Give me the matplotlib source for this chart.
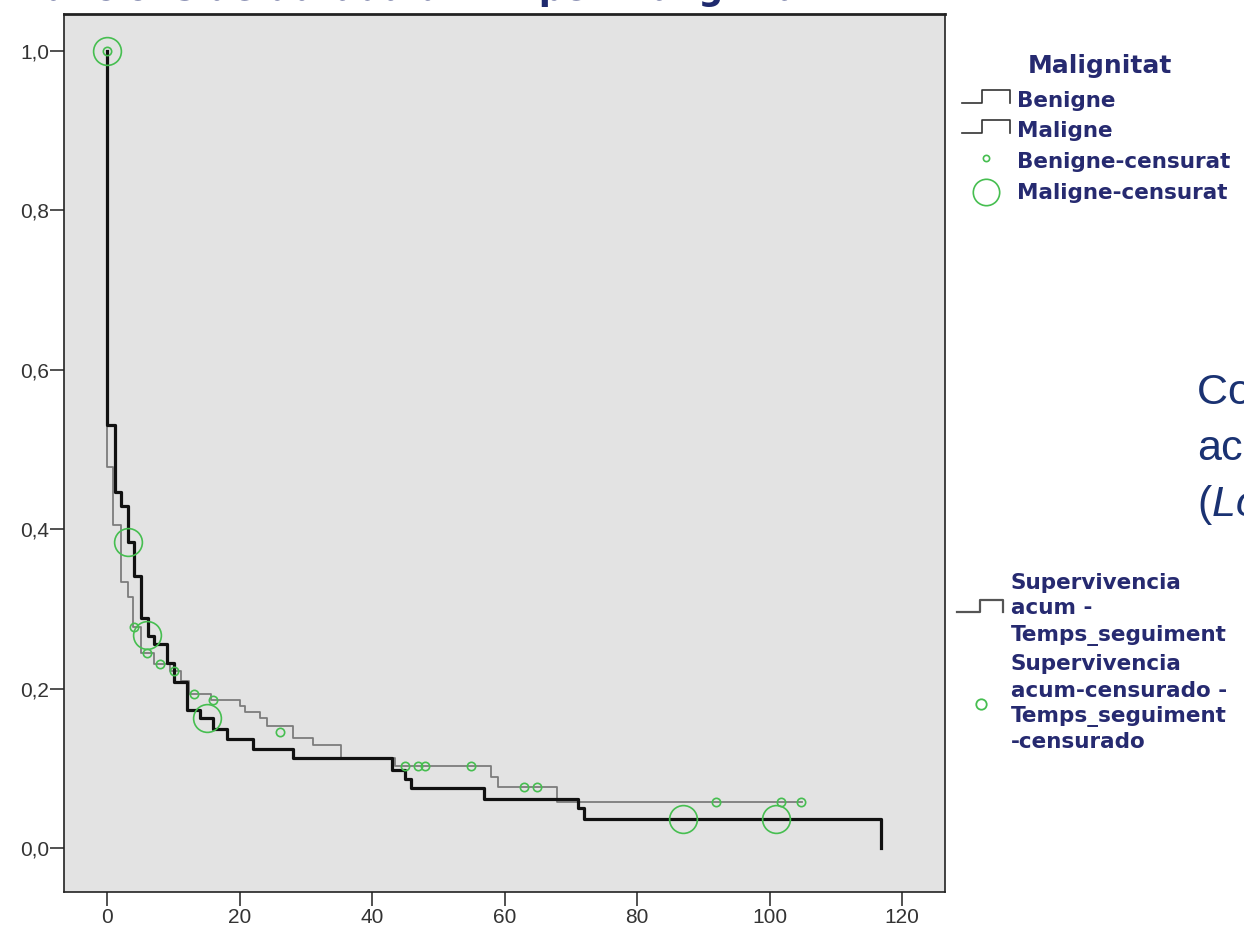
#Kaplan-Meier survival by malignancy
import matplotlib
matplotlib.use("Agg")
import matplotlib.pyplot as plt
from matplotlib.lines import Line2D

# Maligne (thick black) step curve: time, survival after each drop
mal_t = [0, 0, 1.1, 2.1, 3.1, 4.0, 5.0, 6.1, 7.0, 9.0, 10.1, 12.0, 14.0, 16.0, 18.0, 22.0, 28.0, 42.9, 44.9, 45.8, 56.9, 71.1, 71.9, 116.9, 116.9]
mal_s = [1.0, 0.531, 0.447, 0.429, 0.384, 0.342, 0.289, 0.266, 0.256, 0.232, 0.209, 0.173, 0.163, 0.150, 0.137, 0.125, 0.113, 0.098, 0.087, 0.075, 0.0615, 0.050, 0.037, 0.037, 0.0]

# Benigne (thin gray) step curve
ben_t = [0, 0, 0.9, 2.0, 3.1, 3.8, 5.0, 7.0, 9.5, 11.1, 12.3, 15.6, 20.0, 20.8, 23.1, 24.1, 28.0, 31.0, 35.2, 43.4, 57.9, 59.0, 67.9, 104.9]
ben_s = [1.0, 0.478, 0.405, 0.334, 0.315, 0.278, 0.245, 0.231, 0.222, 0.210, 0.194, 0.186, 0.178, 0.171, 0.163, 0.153, 0.138, 0.129, 0.113, 0.103, 0.090, 0.077, 0.058, 0.058]

# censored observations
ben_cens_t = [0, 4.0, 6.0, 8.0, 10.1, 13.0, 16.0, 26.0, 44.9, 46.9, 48.0, 54.9, 62.9, 64.9, 91.9, 101.8, 104.8]
ben_cens_s = [1.0, 0.278, 0.245, 0.231, 0.222, 0.194, 0.186, 0.146, 0.103, 0.103, 0.103, 0.103, 0.077, 0.077, 0.058, 0.058, 0.058]
mal_cens_t = [0, 3.1, 6.0, 15.1, 87.0, 100.9]
mal_cens_s = [1.0, 0.384, 0.267, 0.164, 0.037, 0.037]

xticks = [0, 20, 40, 60, 80, 100, 120]
yticks = [0.0, 0.2, 0.4, 0.6, 0.8, 1.0]
ytick_labels = ["0,0", "0,2", "0,4", "0,6", "0,8", "1,0"]

W, H = 1244, 930
green = "#46be50"
navy = "#262a70"

fig = plt.figure(figsize=(W / 100, H / 100), dpi=100)
ax = fig.add_axes([64 / W, 1 - 891.5 / H, (945 - 64) / W, (891.5 - 14) / H])
ax.set_facecolor("#e3e3e3")

ax.step(ben_t, ben_s, where="post", color="#7c7c7c", linewidth=1.3, zorder=2)
ax.step(mal_t, mal_s, where="post", color="#111111", linewidth=2.3, zorder=3)
ax.plot(ben_cens_t, ben_cens_s, linestyle="none", marker="o", markersize=6,
        markerfacecolor="none", markeredgecolor=green, markeredgewidth=1.2, zorder=4)
ax.plot(mal_cens_t, mal_cens_s, linestyle="none", marker="o", markersize=20,
        markerfacecolor="none", markeredgecolor=green, markeredgewidth=1.2, zorder=4)

ax.set_xlim(-6.57, 126.5)
ax.set_ylim(-0.0542, 1.0464)
ax.set_xticks(xticks)
ax.set_yticks(yticks)
ax.set_yticklabels(ytick_labels)
ax.tick_params(axis="y", length=10, width=1.1, pad=0.5, colors="#222222", labelcolor="#333333")
ax.tick_params(axis="x", length=10, width=1.1, pad=2, colors="#222222", labelcolor="#333333")
for lab in ax.get_xticklabels() + ax.get_yticklabels():
    lab.set_fontfamily("Liberation Sans")
    lab.set_fontsize(15)
for sp in ax.spines.values():
    sp.set_color("#222222")
    sp.set_linewidth(1.2)
ax.spines["top"].set_linewidth(2)


def fx(x):
    return x / W


def fy(y):
    return 1 - y / H


# cut-off title at the top
fig.text(fx(22), fy(0), "Funcions de durada d'ATP per Malignitat", fontsize=25,
         fontweight="bold", color="#1f2a6e", va="baseline", ha="left")

# legend 1 (Malignitat)
bold = dict(fontfamily="DejaVu Sans", fontweight="bold", color=navy, va="baseline")
fig.text(fx(1100), fy(73), "Malignitat", fontsize=18, ha="center", **bold)
for yb, lab in [(107, "Benigne"), (137, "Maligne")]:
    dy = yb - 107
    fig.add_artist(Line2D([fx(962), fx(982), fx(982), fx(1010), fx(1010)],
                          [fy(103 + dy), fy(103 + dy), fy(90 + dy), fy(90 + dy), fy(103 + dy)],
                          transform=fig.transFigure, color="#333333", linewidth=1.2))
    fig.text(fx(1017), fy(yb), lab, fontsize=15.5, ha="left", **bold)
fig.add_artist(Line2D([fx(986)], [fy(158)], transform=fig.transFigure, marker="o",
                      markersize=4.5, markerfacecolor="none", markeredgecolor=green, markeredgewidth=1.2))
fig.text(fx(1017), fy(168), "Benigne-censurat", fontsize=15.5, ha="left", **bold)
fig.add_artist(Line2D([fx(986)], [fy(192)], transform=fig.transFigure, marker="o",
                      markersize=19, markerfacecolor="none", markeredgecolor=green, markeredgewidth=1.2))
fig.text(fx(1017), fy(199), "Maligne-censurat", fontsize=15.5, ha="left", **bold)

# legend 2
fig.add_artist(Line2D([fx(957), fx(980), fx(980), fx(1003), fx(1003)],
                      [fy(612), fy(612), fy(600), fy(600), fy(612)],
                      transform=fig.transFigure, color="#555555", linewidth=1.6))
fig.add_artist(Line2D([fx(981)], [fy(704)], transform=fig.transFigure, marker="o",
                      markersize=7.5, markerfacecolor="none", markeredgecolor=green, markeredgewidth=1.3))
leg2_lines = ["Supervivencia", "acum -", "Temps_seguiment", "Supervivencia",
              "acum-censurado -", "Temps_seguiment", "-censurado"]
leg2_base = [589, 614, 641, 670, 697, 722, 748]
for yb, lab in zip(leg2_base, leg2_lines):
    fig.text(fx(1011), fy(yb), lab, fontsize=15.5, ha="left", **bold)

# cut-off slide text on the right
blue = "#1a3272"
fig.text(fx(1197), fy(404), "Corba de supervivència", fontsize=31, color=blue,
         fontfamily="Liberation Sans", va="baseline", ha="left")
fig.text(fx(1197), fy(460), "acumulada", fontsize=31, color=blue,
         fontfamily="Liberation Sans", va="baseline", ha="left")
fig.text(fx(1197), fy(516), "(", fontsize=31, color=blue,
         fontfamily="Liberation Sans", va="baseline", ha="left")
fig.text(fx(1212), fy(516), "Log rank)", fontsize=31, color=blue, fontstyle="italic",
         fontfamily="Liberation Sans", va="baseline", ha="left")

fig.savefig("out.png", dpi=100)
